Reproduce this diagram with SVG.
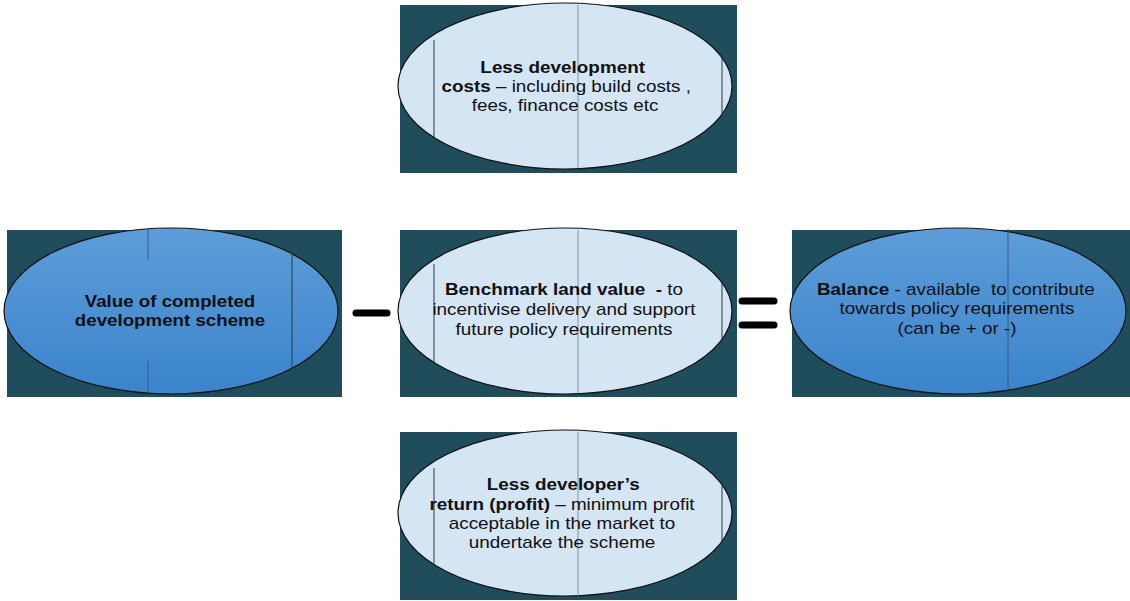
<svg xmlns="http://www.w3.org/2000/svg" width="1130" height="601" viewBox="0 0 1130 601">
  <defs>
    <linearGradient id="blueFill" x1="0" y1="0" x2="0" y2="1">
      <stop offset="0" stop-color="#5d9dd8"/>
      <stop offset="1" stop-color="#3a84cc"/>
    </linearGradient>
    <style>
      .panel { fill: #1f4d5b; }
      .oval-light { fill: #d4e5f4; stroke: #111; stroke-width: 1.2; }
      .oval-dark { fill: url(#blueFill); stroke: #111; stroke-width: 1.2; }
      .rule-dark { stroke: #2a3b44; stroke-width: 1; }
      .rule-soft { stroke: #7f98a8; stroke-width: 1; }
      .rule-blue { stroke: #2f5f86; stroke-width: 1; }
      text { font-family: "Liberation Sans", Arial, sans-serif; font-size: 16px; fill: #111; text-anchor: middle; white-space: pre; }
      .b { font-weight: bold; }
      .op { stroke: #000; stroke-width: 7; stroke-linecap: round; fill: none; }
    </style>
  </defs>

  <!-- top: development costs -->
  <g id="dev-costs">
    <rect class="panel" x="400" y="5" width="337" height="168"/>
    <ellipse class="oval-light" cx="565" cy="86" rx="167" ry="83"/>
    <line class="rule-dark" x1="434" y1="40" x2="434" y2="137"/>
    <line class="rule-soft" x1="578" y1="5" x2="578" y2="168"/>
    <line class="rule-dark" x1="722" y1="58" x2="722" y2="118"/>
    <g transform="translate(565 0) scale(1.18 1)">
      <text x="-2" y="73" class="b">Less development</text>
      <text x="1" y="92"><tspan class="b">costs</tspan> – including build costs ,</text>
      <text x="0" y="111">fees, finance costs etc</text>
    </g>
  </g>

  <!-- middle left: gross development value -->
  <g id="gdv">
    <rect class="panel" x="7" y="230" width="335" height="167"/>
    <ellipse class="oval-dark" cx="171" cy="311" rx="167" ry="83"/>
    <line class="rule-blue" x1="148" y1="229" x2="148" y2="260"/>
    <line class="rule-blue" x1="148" y1="361" x2="148" y2="393"/>
    <line class="rule-dark" x1="292" y1="253" x2="292" y2="369"/>
    <g transform="translate(170 0) scale(1.17 1)">
      <text x="0" y="307" class="b">Value of completed</text>
      <text x="0" y="326" class="b">development scheme</text>
    </g>
  </g>

  <!-- middle: benchmark land value -->
  <g id="benchmark">
    <rect class="panel" x="400" y="230" width="337" height="167"/>
    <ellipse class="oval-light" cx="565" cy="311" rx="167" ry="83"/>
    <line class="rule-dark" x1="434" y1="264" x2="434" y2="362"/>
    <line class="rule-soft" x1="578" y1="230" x2="578" y2="393"/>
    <line class="rule-dark" x1="722" y1="283" x2="722" y2="343"/>
    <g transform="translate(564 0) scale(1.18 1)">
      <text x="0" y="295"><tspan class="b">Benchmark land value  -</tspan> to</text>
      <text x="0" y="315">incentivise delivery and support</text>
      <text x="0" y="335">future policy requirements</text>
    </g>
  </g>

  <!-- middle right: residual balance -->
  <g id="balance">
    <rect class="panel" x="792" y="230" width="338" height="167"/>
    <ellipse class="oval-dark" cx="958" cy="311" rx="168" ry="83"/>
    <line class="rule-blue" x1="1008" y1="229" x2="1008" y2="390"/>
    <g transform="translate(957 0) scale(1.18 1)">
      <text x="-1" y="295"><tspan class="b">Balance</tspan> - available  to contribute</text>
      <text x="0" y="314">towards policy requirements</text>
      <text x="0" y="334">(can be + or -)</text>
    </g>
  </g>

  <!-- bottom: developer's return -->
  <g id="dev-return">
    <rect class="panel" x="400" y="432" width="337" height="168"/>
    <ellipse class="oval-light" cx="565" cy="513" rx="167" ry="83"/>
    <line class="rule-dark" x1="434" y1="468" x2="434" y2="565"/>
    <line class="rule-soft" x1="578" y1="432" x2="578" y2="596"/>
    <line class="rule-dark" x1="722" y1="486" x2="722" y2="546"/>
    <g transform="translate(562 0) scale(1.18 1)">
      <text x="1" y="490" class="b">Less developer’s</text>
      <text x="0" y="510"><tspan class="b">return (profit)</tspan> – minimum profit</text>
      <text x="0" y="529">acceptable in the market to</text>
      <text x="0" y="548">undertake the scheme</text>
    </g>
  </g>

  <!-- operators between the ovals -->
  <g id="connectors">
    <line class="op" x1="356" y1="313" x2="387" y2="313"/>
    <line class="op" x1="742" y1="301" x2="774" y2="301"/>
    <line class="op" x1="742" y1="325" x2="774" y2="325"/>
  </g>
</svg>
